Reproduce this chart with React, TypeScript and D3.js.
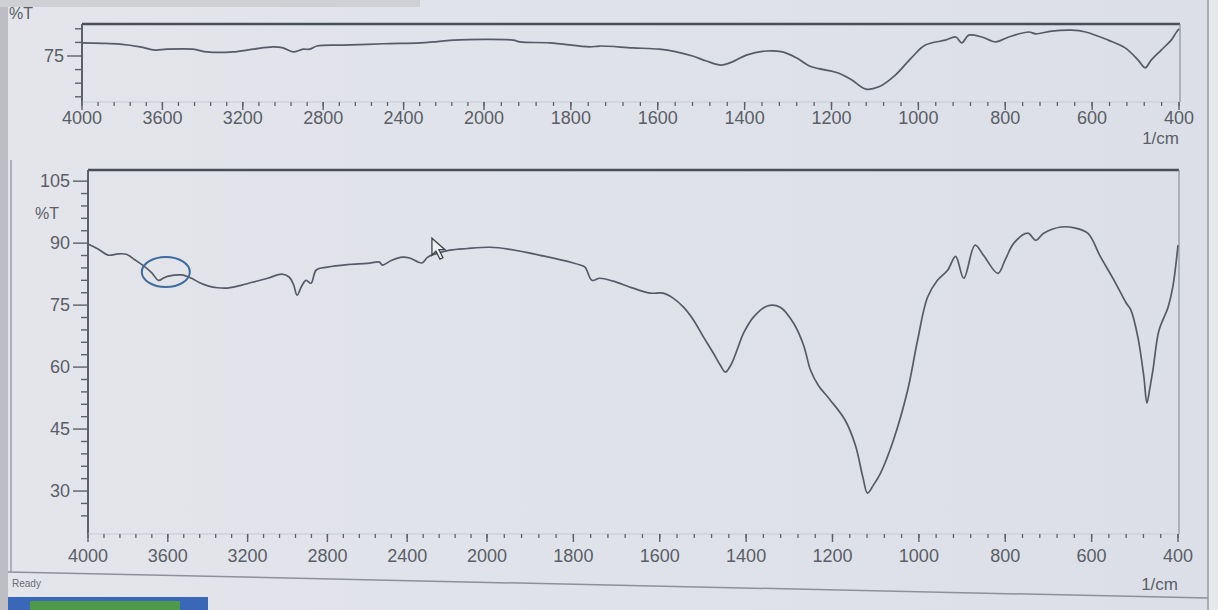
import React from "react";
import * as d3 from "d3";

// Overview spectrum (upper strip): wavenumber (1/cm) and transmittance (%T)
const overviewWavenumber = [
  4000, 3900, 3811, 3711, 3637, 3577, 3448, 3378, 3249, 3149, 3050, 3000, 2950, 2900, 2866, 2831,
  2701, 2500, 2318, 2254, 2154, 1933, 1917, 1848, 1757, 1734, 1658, 1596, 1557, 1520, 1488, 1454,
  1428, 1396, 1350, 1313, 1281, 1251, 1229, 1183, 1153, 1121, 1091, 1053, 1016, 984, 938, 914,
  900, 884, 854, 822, 792, 746, 730, 693, 648, 615, 563, 524, 494, 478, 464, 441, 418, 407, 400,
];
const overviewTransmittance = [
  77.9, 77.8, 77.6, 77.0, 76.3, 76.5, 76.5, 75.9, 75.9, 76.5, 77.0, 76.8, 75.9, 76.5, 76.5, 77.2,
  77.4, 77.7, 77.9, 78.1, 78.5, 78.5, 78.1, 77.9, 77.0, 77.2, 76.8, 76.5, 75.9, 75.0, 73.9, 73.0,
  73.7, 75.2, 76.1, 75.9, 74.6, 72.8, 72.2, 71.2, 69.7, 67.7, 68.2, 70.8, 74.6, 77.4, 78.5, 79.2,
  77.9, 79.6, 79.2, 78.1, 79.2, 80.3, 79.9, 80.5, 80.7, 80.3, 78.5, 76.8, 74.1, 72.4, 74.1, 76.3,
  78.5, 80.1, 81.0,
];

// Main spectrum (lower panel)
const sampleWavenumber = [
  4000, 3950, 3899, 3850, 3808, 3763, 3713, 3680, 3647, 3620, 3597, 3531, 3481, 3440, 3395, 3350,
  3310, 3250, 3194, 3100, 3028, 2992, 2970, 2952, 2930, 2907, 2882, 2856, 2800, 2700, 2600, 2539,
  2524, 2480, 2423, 2388, 2327, 2300, 2277, 2186, 2100, 1993, 1947, 1870, 1800, 1784, 1773, 1757,
  1739, 1708, 1662, 1623, 1592, 1569, 1545, 1522, 1500, 1476, 1460, 1448, 1438, 1430, 1418, 1406,
  1383, 1351, 1321, 1290, 1267, 1251, 1233, 1205, 1171, 1147, 1130, 1119, 1105,
  1089, 1059, 1026, 1003, 980, 957, 933, 915, 896, 870, 850, 817, 800, 780, 748, 729, 711, 671,
  640, 609, 579, 548, 520, 509, 493, 479, 472, 465, 458, 444, 423, 412, 400,
];
const sampleTransmittance = [
  89.8, 88.6, 87.1, 87.4, 87.3, 85.9, 84.2, 82.8, 81.0, 81.6, 82.0, 82.3, 81.5, 80.4, 79.6, 79.2,
  79.1, 79.6, 80.3, 81.5, 82.5, 81.8, 80.0, 77.4, 79.5, 81.0, 80.3, 83.5, 84.2, 84.8, 85.1, 85.4,
  84.7, 85.8, 86.6, 86.4, 85.2, 86.5, 87.1, 88.3, 88.7, 89.0, 88.5, 86.9, 85.2, 84.7, 84.2, 81.0,
  81.5, 80.8, 79.1, 77.9, 77.9, 76.7, 74.5, 71.4, 67.5, 63.4, 60.5, 58.8, 60.0, 61.7, 65.0, 68.2,
  72.1, 74.8, 74.5, 70.6, 65.3, 59.3, 55.6, 52.0, 47.2, 41.1, 33.5, 29.5, 31.5,
  34.3, 42.3, 54.4, 66.5, 76.9, 81.0, 83.5, 86.8, 81.5, 89.5, 87.0, 82.7, 86.0, 90.0, 92.4, 90.7,
  92.4, 93.9, 93.7, 92.4, 86.6, 81.0, 75.5, 73.8, 67.3, 57.6, 51.3, 55.0, 59.3, 68.9, 74.5, 79.4,
  89.5,
];

// Axis labels
const xTickLabels = [4000, 3600, 3200, 2800, 2400, 2000, 1800, 1600, 1400, 1200, 1000, 800, 600, 400];
const yLabelStep = 15;
const yMinorStep = 3;

// Highlighted region on the main spectrum and pointer position
const markedRegion = { wavenumber: 3610, transmittance: 83.0 };
const pointerAt = { wavenumber: 2276, transmittance: 91.2 };

const FONT = "'Liberation Sans', Arial, sans-serif";
const TEXT = "#5a5e66";
const LINE = "#555b67";
const AXIS = "#5c6068";

function xScaleFor(left: number, brk: number, right: number) {
  // Wavenumber axis: 4000-2000 compressed, 2000-400 expanded
  return d3.scaleLinear().domain([4000, 2000, 400]).range([left, brk, right]);
}

function minorTicks(): number[] {
  const left = d3.range(4000, 2000, -80);
  const right = d3.range(2000, 399, -40);
  return [...left, ...right];
}

type PanelProps = {
  wn: number[];
  tr: number[];
  left: number;
  brk: number;
  right: number;
  top: number;
  bottom: number;
  yDomain: [number, number];
  axisY: number;
  labelY: number;
  unitY: number;
  pctLabel: { x: number; y: number };
  extras?: (x: d3.ScaleLinear<number, number>, y: d3.ScaleLinear<number, number>) => React.ReactNode;
};

function Panel(p: PanelProps) {
  const x = xScaleFor(p.left, p.brk, p.right);
  const y = d3.scaleLinear().domain(p.yDomain).range([p.bottom, p.top]);
  const pts = p.wn.map((w, i) => [w, p.tr[i]] as [number, number]);
  const line = d3
    .line<[number, number]>()
    .x((d) => x(d[0]))
    .y((d) => y(d[1]))
    .curve(d3.curveCatmullRom.alpha(0.5));

  const yStart = Math.ceil(p.yDomain[0] / yMinorStep) * yMinorStep;
  const yTicks = d3.range(yStart, p.yDomain[1], yMinorStep);

  return (
    <g>
      {/* frame */}
      <line x1={p.left} x2={p.right + 1} y1={p.top} y2={p.top} stroke="#4a4e55" strokeWidth={2.6} />
      <line x1={p.right + 1} x2={p.right + 1} y1={p.top} y2={p.axisY} stroke="#8e9299" strokeWidth={1.2} />
      <line x1={p.left} x2={p.left} y1={p.top} y2={p.axisY} stroke={AXIS} strokeWidth={2} />
      <line x1={p.left} x2={p.right} y1={p.axisY} y2={p.axisY} stroke="#c6c9d0" strokeWidth={1} />

      {/* y ticks */}
      {yTicks.map((v) => {
        const major = Math.abs(v % yLabelStep) < 1e-6;
        return (
          <g key={"y" + v}>
            <line
              x1={p.left - (major ? 15 : 7)}
              x2={p.left}
              y1={y(v)}
              y2={y(v)}
              stroke={AXIS}
              strokeWidth={1.4}
            />
            {major && (
              <text
                x={p.left - 18}
                y={y(v)}
                dy="0.35em"
                textAnchor="end"
                fontSize={18}
                fill={TEXT}
                fontFamily={FONT}
              >
                {v}
              </text>
            )}
          </g>
        );
      })}
      <text x={p.pctLabel.x} y={p.pctLabel.y} dy="0.35em" fontSize={16} fill={TEXT} fontFamily={FONT}>
        %T
      </text>

      {/* x ticks */}
      {minorTicks().map((w) => (
        <line key={"m" + w} x1={x(w)} x2={x(w)} y1={p.axisY} y2={p.axisY + 4} stroke={AXIS} strokeWidth={1.3} />
      ))}
      {xTickLabels.map((w) => (
        <g key={"x" + w}>
          <line x1={x(w)} x2={x(w)} y1={p.axisY} y2={p.axisY + 8} stroke={AXIS} strokeWidth={1.4} />
          <text
            x={x(w)}
            y={p.labelY}
            dy="0.35em"
            textAnchor="middle"
            fontSize={18}
            fill={TEXT}
            fontFamily={FONT}
          >
            {w}
          </text>
        </g>
      ))}
      <text x={p.right} y={p.unitY} dy="0.35em" textAnchor="end" fontSize={17} fill={TEXT} fontFamily={FONT}>
        1/cm
      </text>

      {/* spectrum */}
      <path d={line(pts) ?? ""} fill="none" stroke={LINE} strokeWidth={1.7} strokeLinejoin="round" />
      {p.extras && p.extras(x, y)}
    </g>
  );
}

export default function App() {
  const W = 1218;
  const H = 610;
  return (
    <svg
      width={W}
      height={H}
      style={{ position: "absolute", left: 0, top: 0, display: "block" }}
      viewBox={`0 0 ${W} ${H}`}
    >
      <defs>
        <linearGradient id="bg" x1="0" x2="1" y1="0" y2="0">
          <stop offset="0" stopColor="#e4e5ea" />
          <stop offset="0.5" stopColor="#e0e2ea" />
          <stop offset="1" stopColor="#dcdfe8" />
        </linearGradient>
      </defs>
      <rect x={0} y={0} width={W} height={H} fill="url(#bg)" />
      {/* window edges */}
      <rect x={0} y={0} width={8} height={H} fill="#bcbec4" />
      <rect x={0} y={0} width={420} height={7} fill="#cfd0d4" />
      <rect x={1208} y={0} width={10} height={H} fill="#e6e8ec" />
      <line x1={1208} x2={1208} y1={0} y2={H} stroke="#a9acb3" strokeWidth={2} />
      <line x1={11} x2={11} y1={160} y2={572} stroke="#9c9fa6" strokeWidth={1.5} />

      <Panel
        wn={overviewWavenumber}
        tr={overviewTransmittance}
        left={82}
        brk={484}
        right={1179}
        top={24}
        bottom={102}
        yDomain={[64.85, 82.06]}
        axisY={102}
        labelY={118}
        unitY={138}
        pctLabel={{ x: 9, y: 13 }}
      />

      <Panel
        wn={sampleWavenumber}
        tr={sampleTransmittance}
        left={88}
        brk={487}
        right={1178}
        top={170}
        bottom={527}
        yDomain={[21.3, 107.7]}
        axisY={534}
        labelY={556}
        unitY={584}
        pctLabel={{ x: 35, y: 213 }}
        extras={(x, y) => {
          const cx = x(markedRegion.wavenumber);
          const cy = y(markedRegion.transmittance);
          const px = x(pointerAt.wavenumber);
          const py = y(pointerAt.transmittance);
          return (
            <g>
              <ellipse cx={cx} cy={cy} rx={24} ry={15} fill="none" stroke="#3d6c9e" strokeWidth={2} />
              <path
                d={`M${px},${py} l0,17 l4,-4 l4,8 l3,-1.5 l-4,-8 l6,0 Z`}
                fill="#eef0f4"
                stroke="#3f434a"
                strokeWidth={1.3}
              />
            </g>
          );
        }}
      />

      {/* status bar */}
      <line x1={8} x2={1208} y1={572} y2={598} stroke="#8d9097" strokeWidth={1.5} />
      <text x={12} y={587} fontSize={10} fill="#6a6d73" fontFamily={FONT}>
        Ready
      </text>
      <rect x={8} y={597} width={200} height={13} fill="#3b67b8" />
      <rect x={30} y={601} width={150} height={9} fill="#4f9a4a" />
    </svg>
  );
}
